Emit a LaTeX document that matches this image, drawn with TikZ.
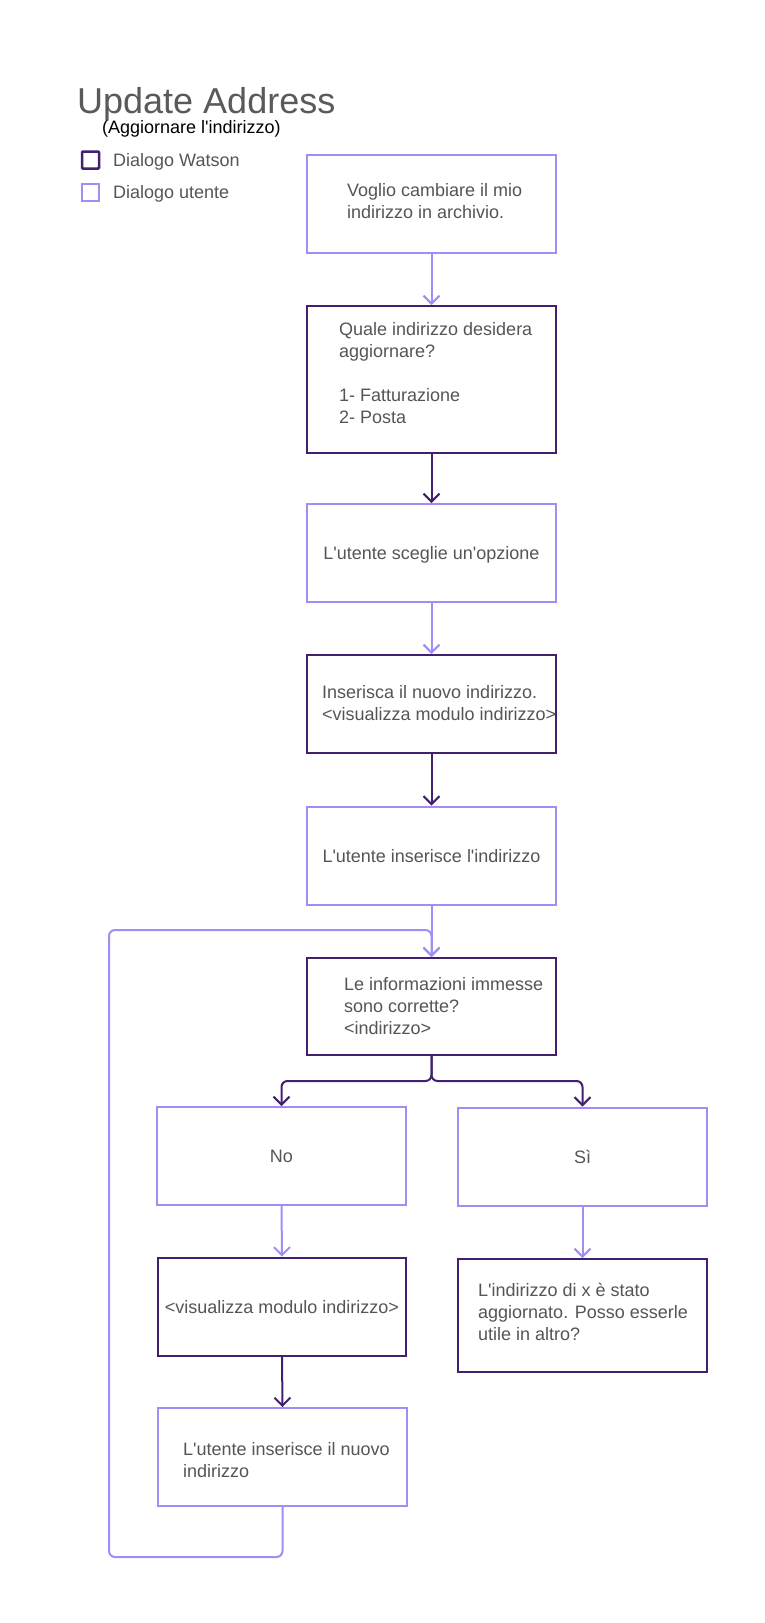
\documentclass[tikz,border=0pt]{standalone}
\usepackage{fontspec}
\setmainfont{Liberation Sans}[Ligatures=TeXOff]
\usetikzlibrary{arrows.meta}

\definecolor{watson}{HTML}{43206F}
\definecolor{utente}{HTML}{A48CF6}
\definecolor{txtgray}{HTML}{555555}
\definecolor{titlegray}{HTML}{5A5A5A}

\tikzset{
  box/.style={draw, line width=2pt, minimum width=249pt, minimum height=98pt, inner sep=0pt, fill=white},
  watsonbox/.style={box, draw=watson},
  userbox/.style={box, draw=utente},
  txt/.style={font=\fontsize{18}{22}\selectfont, text=txtgray, align=left, inner sep=0pt,
    execute at begin node=\strut, execute at end node=\strut},
  ctxt/.style={txt, anchor=center, yshift=-2.5pt},
  ltxt/.style={txt, anchor=north west},
  tip/.style={-{Straight Barb[length=8pt,width=16pt]}},
  watsonline/.style={draw=watson, line width=2pt, tip},
  userline/.style={draw=utente, line width=2pt, tip},
}

\begin{document}
\begin{tikzpicture}[x=1pt, y=-1pt]
\useasboundingbox[fill=white] (0,0) rectangle (765,1623);

% heading and legend
\node[anchor=base west, inner sep=0pt, font=\fontsize{36}{40}\selectfont, text=titlegray] (title) at (77,113) {Update Address};
\node[anchor=base west, inner sep=0pt, font=\fontsize{18}{22}\selectfont, text=black] (subtitle) at (102,133) {(Aggiornare l'indirizzo)};
\node[draw=watson, line width=2.5pt, minimum size=17pt, inner sep=0pt, rounded corners=1pt] (legw) at (90.5,160) {};
\node[draw=utente, line width=2pt, minimum size=17pt, inner sep=0pt] (legu) at (90.5,192) {};
\node[anchor=base west, inner sep=0pt, font=\fontsize{18}{22}\selectfont, text=txtgray] (legwt) at (113,166) {Dialogo Watson};
\node[anchor=base west, inner sep=0pt, font=\fontsize{18}{22}\selectfont, text=txtgray] (legut) at (113,198) {Dialogo utente};

% main column
\node[userbox] (b1) at (431.5,203.5) {};
\node[watsonbox, minimum height=147pt] (b2) at (431.5,379.5) {};
\node[userbox] (b3) at (431.5,553) {};
\node[watsonbox] (b4) at (431.5,704) {};
\node[userbox] (b5) at (431.5,855.5) {};
\node[watsonbox, minimum height=97pt] (b6) at (431.5,1006.5) {};

% branches
\node[userbox] (bno) at (281.5,1156) {};
\node[userbox] (bsi) at (582.5,1156.5) {};
\node[watsonbox, minimum width=248pt] (bvis) at (282,1306.5) {};
\node[userbox] (blast) at (282.5,1457) {};
\node[watsonbox, minimum height=113pt] (bfin) at (582.5,1315.5) {};

% box texts
\node[ltxt] (t1) at (347,183.6) {Voglio cambiare il mio\\indirizzo in archivio.};
\node[ltxt] (t2) at (339,322.6) {Quale indirizzo desidera\\aggiornare?\\[22pt]1- Fatturazione\\2- Posta};
\node[ctxt] (t3) at (b3.center) {L'utente sceglie un'opzione};
\node[ltxt] (t4) at (322,685.6) {Inserisca il nuovo indirizzo.\\<visualizza modulo indirizzo>};
\node[ctxt] (t5) at (b5.center) {L'utente inserisce l'indirizzo};
\node[ltxt] (t6) at (344,977.6) {Le informazioni immesse\\sono corrette?\\<indirizzo>};
\node[ctxt] (tno) at (bno.center) {No};
\node[ctxt] (tsi) at (bsi.center) {Sì};
\node[ctxt] (tvis) at (bvis.center) {<visualizza modulo indirizzo>};
\node[ltxt] (tlast) at (183,1442.6) {L'utente inserisce il nuovo\\indirizzo};
\node[ltxt] (tfin) at (478,1282.6) {L'indirizzo di x è stato\\aggiornato. Posso esserle\\utile in altro?};

% connectors
\draw[userline] (b1.south) -- (b2.north);
\draw[watsonline] (b2.south) -- (b3.north);
\draw[userline] (b3.south) -- (b4.north);
\draw[watsonline] (b4.south) -- (b5.north);
\draw[userline] (b5.south) -- (b6.north);

\coordinate (split) at (431.5,1081);
\draw[watsonline, rounded corners=6pt] (b6.south) -- (split) -| (bno.north);
\draw[watsonline, rounded corners=6pt] (b6.south) -- (split) -| (bsi.north);

\draw[userline] (bno.south) -- (bvis.north);
\draw[watsonline] (bvis.south) -- (blast.north);
\draw[userline] (bsi.south) -- (bfin.north);

% loop back for a new address
\coordinate (loopbl) at (109,1557);
\coordinate (looptl) at (109,930);
\draw[userline, rounded corners=6pt] (blast.south) |- (loopbl) -- (looptl) -- (b6.north |- looptl) -- (b6.north);
\end{tikzpicture}
\end{document}
